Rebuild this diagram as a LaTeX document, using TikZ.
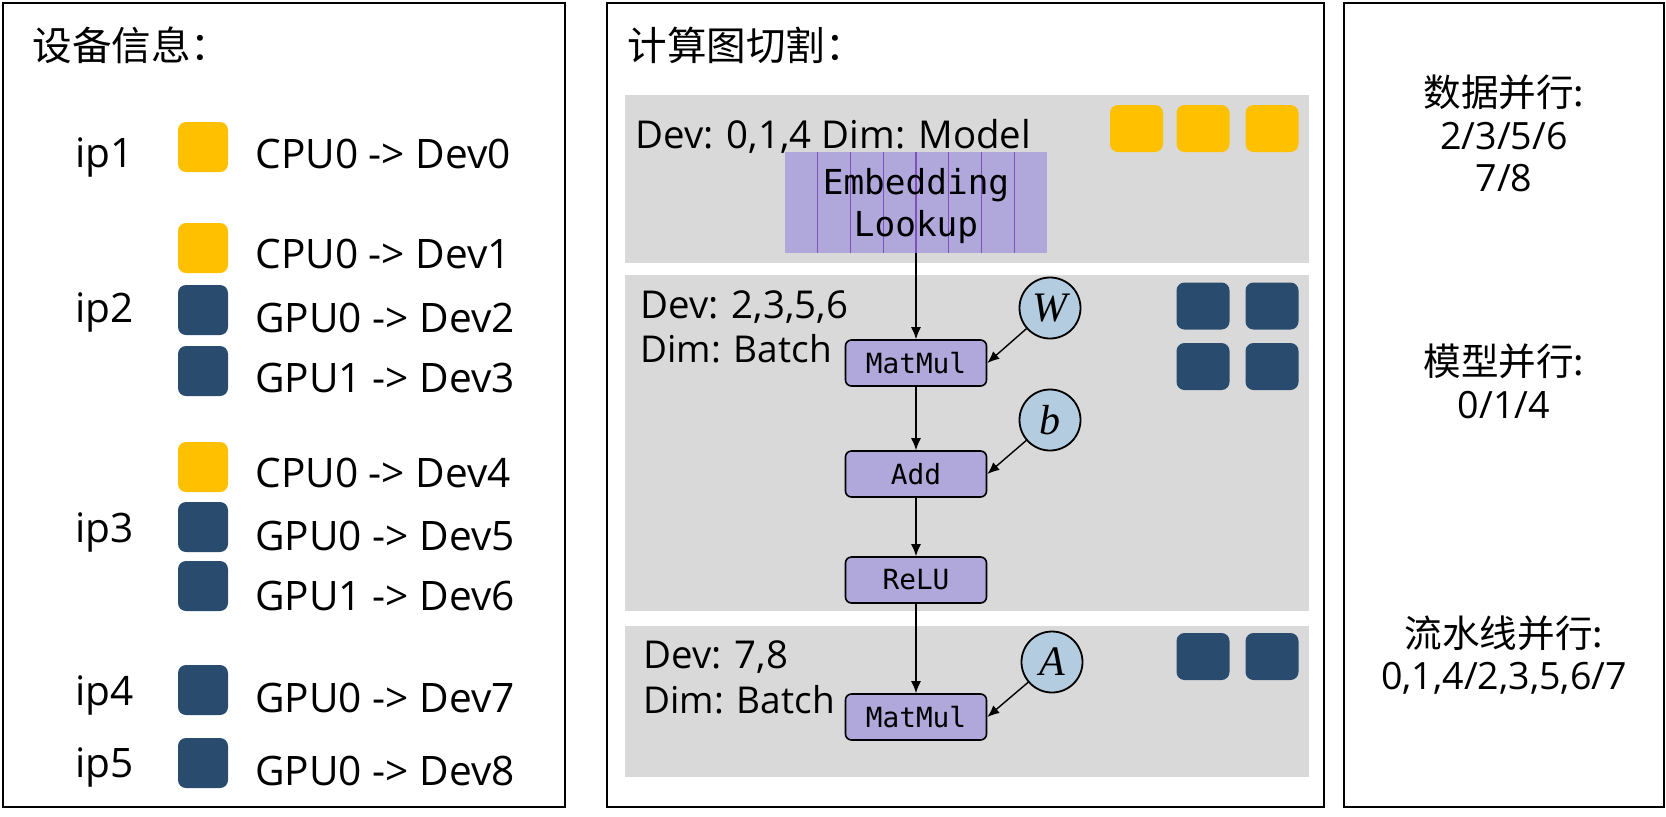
\documentclass[tikz,border=0pt]{standalone}
\usepackage{fontspec}
\setmainfont{Open Sans}
\newfontfamily\cjk{Noto Sans CJK SC}
\newfontfamily\monof{DejaVu Sans Mono}
\newfontfamily\varfont{Liberation Serif}
\usetikzlibrary{arrows.meta}
\definecolor{cyel}{HTML}{FFC000}
\definecolor{cnavy}{RGB}{41,76,110}
\definecolor{bandgray}{RGB}{217,217,217}
\definecolor{clav}{RGB}{176,168,218}
\definecolor{cblue}{RGB}{180,204,224}
\definecolor{cline}{RGB}{130,80,190}
\tikzset{
  panel/.style={draw=black, line width=1pt},
  band/.style={fill=bandgray},
  sqbase/.style={rounded corners=4pt, minimum width=25pt, minimum height=25pt, inner sep=0pt},
  sqY/.style={sqbase, fill=cyel},
  sqB/.style={sqbase, fill=cnavy},
  msqbase/.style={rounded corners=4pt, minimum width=26.5pt, minimum height=23.5pt, inner sep=0pt},
  msqY/.style={msqbase, fill=cyel},
  msqB/.style={msqbase, fill=cnavy},
  lbl/.style={anchor=base west, inner sep=0pt, font=\fontsize{20.3}{24}\selectfont},
  mlbl/.style={anchor=base west, inner sep=0pt, font=\fontsize{19.2}{24}\selectfont},
  blbl/.style={anchor=base west, inner sep=0pt, font=\fontsize{18.5}{24}\selectfont},
  ttl/.style={anchor=base west, inner sep=0pt, font=\cjk\fontsize{19.8}{24}\selectfont},
  rtxt/.style={anchor=base, inner sep=0pt, font=\fontsize{18.8}{22}\selectfont},
  rcjk/.style={anchor=base, inner sep=0pt, font=\cjk\fontsize{18.8}{22}\selectfont},
  op/.style={draw=black, line width=0.8pt, fill=clav, rounded corners=3pt,
    minimum width=70.5pt, minimum height=23pt, inner sep=0pt,
    font=\monof\fontsize{13.9}{16}\selectfont},
  embbox/.style={fill=clav, minimum width=131pt, minimum height=50.5pt, inner sep=0pt},
  embtext/.style={align=center, inner sep=0pt, font=\monof\fontsize{17.2}{21}\selectfont},
  embline/.style={draw=cline, line width=0.6pt},
  var/.style={circle, draw=black, line width=0.9pt, fill=cblue, minimum size=30.5pt,
    inner sep=0pt, font=\varfont\itshape\fontsize{21}{24}\selectfont},
  arr/.style={-{Latex[length=6pt,width=5pt]}, line width=0.7pt}
}
\begin{document}
\begin{tikzpicture}[x=0.5pt,y=-0.5pt]
\useasboundingbox (0,0) rectangle (1666,816);
% panels
\draw[panel] (3,3) rectangle (565,807);
\draw[panel] (607,3) rectangle (1324,807);
\draw[panel] (1344,3) rectangle (1664,807);

% ---- left panel
\node[ttl] (t1) at (32,60) {设备信息：};
\node[lbl] (ip1) at (75,167) {ip1};
\node[lbl] (ip2) at (75,322) {ip2};
\node[lbl] (ip3) at (75,542) {ip3};
\node[lbl] (ip4) at (75,705) {ip4};
\node[lbl] (ip5) at (75,777) {ip5};

\node[sqY] (s0) at (203,147) {};
\node[sqY] (s1) at (203,248) {};
\node[sqB] (s2) at (203,310) {};
\node[sqB] (s3) at (203,371) {};
\node[sqY] (s4) at (203,467) {};
\node[sqB] (s5) at (203,527) {};
\node[sqB] (s6) at (203,586) {};
\node[sqB] (s7) at (203,690) {};
\node[sqB] (s8) at (203,763) {};

\node[lbl] (d0) at (255,168) {CPU0 -> Dev0};
\node[lbl] (d1) at (255,268) {CPU0 -> Dev1};
\node[lbl] (d2) at (255,332) {GPU0 -> Dev2};
\node[lbl] (d3) at (255,392) {GPU1 -> Dev3};
\node[lbl] (d4) at (255,487) {CPU0 -> Dev4};
\node[lbl] (d5) at (255,550) {GPU0 -> Dev5};
\node[lbl] (d6) at (255,610) {GPU1 -> Dev6};
\node[lbl] (d7) at (255,712) {GPU0 -> Dev7};
\node[lbl] (d8) at (255,785) {GPU0 -> Dev8};

% ---- middle panel
\node[ttl] (t2) at (627,60) {计算图切割：};
\fill[band] (625,95) rectangle (1309,263);
\fill[band] (625,275) rectangle (1309,611);
\fill[band] (625,626) rectangle (1309,777);

\node[mlbl] (g1) at (635,148) {Dev: 0,1,4 Dim: Model};
\node[mlbl] (g2a) at (640,318) {Dev: 2,3,5,6};
\node[blbl] (g2b) at (640,362) {Dim: Batch};
\node[mlbl] (g3a) at (643,668) {Dev: 7,8};
\node[blbl] (g3b) at (643,713) {Dim: Batch};

\node[msqY] (m1) at (1136.5,128.5) {};
\node[msqY] (m2) at (1203,128.5) {};
\node[msqY] (m3) at (1272,128.5) {};
\node[msqB] (m4) at (1203,306) {};
\node[msqB] (m5) at (1272,306) {};
\node[msqB] (m6) at (1203,366.5) {};
\node[msqB] (m7) at (1272,366.5) {};
\node[msqB] (m8) at (1203,656.5) {};
\node[msqB] (m9) at (1272,656.5) {};

\node[embbox] (emb) at (916,202.5) {};
\foreach \i in {1,...,7} \draw[embline] ({785+32.75*\i},152) -- ({785+32.75*\i},253);
\node[embtext] (embt) at (916,206) {Embedding\\Lookup};

\node[op] (mm1) at (916,363) {MatMul};
\node[op] (add) at (916,474) {Add};
\node[op] (relu) at (916,580) {ReLU};
\node[op] (mm2) at (916,717) {MatMul};

\node[var] (W) at (1050,308) {W};
\node[var] (b) at (1050,420) {b};
\node[var] (A) at (1052,662) {A};

\draw[arr] (emb.south) -- (mm1.north);
\draw[arr] (mm1.south) -- (add.north);
\draw[arr] (add.south) -- (relu.north);
\draw[arr] (relu.south) -- (mm2.north);
\draw[arr] (W) -- (mm1.east);
\draw[arr] (b) -- (add.east);
\draw[arr] (A) -- (mm2.east);

% ---- right panel
\node[rcjk] (r1) at (1504,106) {数据并行:};
\node[rtxt] (r2) at (1504,149) {2/3/5/6};
\node[rtxt] (r3) at (1504,191) {7/8};
\node[rcjk] (r4) at (1504,375) {模型并行:};
\node[rtxt] (r5) at (1504,418) {0/1/4};
\node[rcjk] (r6) at (1504,647) {流水线并行:};
\node[rtxt] (r7) at (1504,689) {0,1,4/2,3,5,6/7};
\end{tikzpicture}
\end{document}
